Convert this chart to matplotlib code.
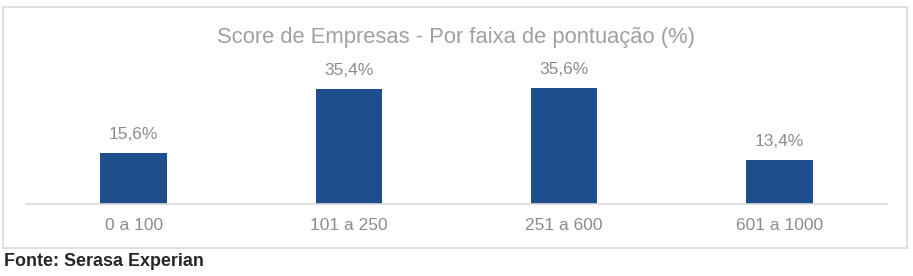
import matplotlib
matplotlib.use("Agg")
import matplotlib.pyplot as plt
from matplotlib.patches import Rectangle

categories = ["0 a 100", "101 a 250", "251 a 600", "601 a 1000"]
values = [15.6, 35.4, 35.6, 13.4]
value_labels = ["15,6%", "35,4%", "35,6%", "13,4%"]
title = "Score de Empresas - Por faixa de pontuação (%)"
source = "Fonte: Serasa Experian"

plt.rcParams['font.family'] = ['Liberation Sans', 'DejaVu Sans']

W, H = 913, 276
fig = plt.figure(figsize=(W/100, H/100), dpi=100)
fig.patch.set_facecolor('white')

# outer box
fig.patches.append(Rectangle((3/W, 28/H), 904/W, 241/H, transform=fig.transFigure,
                             facecolor='none', edgecolor='#D9D9D9', linewidth=1.2, zorder=0))

ax = fig.add_axes([26/W, 72/H, 861/W, 130/H])
ax.set_facecolor('none')
x = list(range(len(categories)))
bars = ax.bar(x, values, width=0.31, color='#1F4E8C')
ax.set_xlim(-0.5, len(categories) - 0.5)
ax.set_ylim(0, 40)
for s in ['top', 'right', 'left']:
    ax.spines[s].set_visible(False)
ax.spines['bottom'].set_color('#D9D9D9')
ax.spines['bottom'].set_linewidth(1.2)
ax.set_yticks([])
ax.set_xticks(x)
ax.set_xticklabels(categories, fontsize=12.5, color='#8C8C8C')
ax.tick_params(axis='x', length=0, pad=10)

for xi, v, lab in zip(x, values, value_labels):
    ax.annotate(lab, (xi, v), xytext=(0, 8), textcoords='offset points',
                ha='center', va='bottom', fontsize=12.5, color='#8C8C8C')

fig.text(456/W, 1 - 37/H, title, ha='center', va='center', fontsize=15.8, color='#A0A0A0')
fig.text(4/W, 1 - 262/H, source, ha='left', va='center', fontsize=12.9, fontweight='bold', color='#262626')

fig.savefig('out.png', dpi=100)
